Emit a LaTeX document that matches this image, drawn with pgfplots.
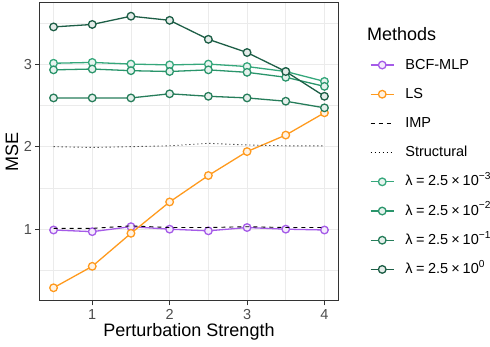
\documentclass[border=0pt]{standalone}
\usepackage{fontspec}
\setmainfont{Liberation Sans}
\usepackage{pgfplots}
\usepackage{pgfplotstable}
\pgfplotsset{compat=1.18}

\definecolor{bcf}{HTML}{A55BE8}
\definecolor{lsq}{HTML}{FF9A1E}
\definecolor{lamA}{HTML}{35A77B}
\definecolor{lamB}{HTML}{2A956B}
\definecolor{lamC}{HTML}{267D5A}
\definecolor{lamD}{HTML}{1D5E46}
\definecolor{gridc}{HTML}{EBEBEB}
\definecolor{tickc}{HTML}{4D4D4D}
\definecolor{framec}{HTML}{333333}

% perturbation strength vs. MSE
\pgfplotstableread{
s    bcf   ls    imp   struct la    lb    lc    ld
0.5  0.99  0.29  1.01  2.00   3.01  2.93  2.59  3.45
1.0  0.97  0.55  1.01  1.99   3.02  2.94  2.59  3.48
1.5  1.03  0.95  1.04  2.00   3.00  2.92  2.59  3.58
2.0  1.00  1.33  1.02  2.01   2.99  2.91  2.64  3.53
2.5  0.98  1.65  1.02  2.04   3.00  2.93  2.61  3.30
3.0  1.02  1.94  1.03  2.02   2.97  2.90  2.59  3.14
3.5  1.00  2.14  1.02  2.01   2.91  2.84  2.55  2.91
4.0  0.99  2.41  1.02  2.01   2.79  2.73  2.47  2.61
}\mse

\pgfplotsset{
  meth/.style={color=#1, line width=1.3pt, mark=*, mark size=3.8pt,
    mark options={solid, draw=#1, fill=#1!12, line width=1.3pt}},
}
\newcommand{\lam}[1]{λ\kern3.5pt=\kern3.5pt2.5\kern3pt×\kern3pt10\raisebox{1pt}{\textsuperscript{#1}}}

\begin{document}
\begin{tikzpicture}
\begin{axis}[
  scale only axis, width=298pt, height=298pt, clip mode=individual,
  xmin=0.325, xmax=4.175, ymin=0.13, ymax=3.74,
  xtick={1,2,3,4}, ytick={1,2,3},
  minor xtick={0.5,1.5,2.5,3.5}, minor ytick={0.5,1.5,2.5,3.5},
  grid=both,
  major grid style={gridc, line width=1pt},
  minor grid style={gridc, line width=0.6pt},
  axis line style={framec, line width=1pt},
  tick pos=left, tick align=outside,
  major tick length=4.5pt, minor tick length=0pt,
  every tick/.style={framec, line width=0.8pt},
  /pgf/number format/assume math mode=true,
  ticklabel style={font=\fontsize{14.5}{16}\selectfont, text=tickc},
  xlabel={Perturbation Strength}, ylabel={MSE},
  label style={font=\fontsize{18}{20}\selectfont},
  xlabel style={at={(axis description cs:0.5,-0.104)}, anchor=center},
  ylabel style={at={(axis description cs:-0.094,0.5)}, anchor=center},
  legend image code/.code={
    \draw[mark repeat=2, mark phase=2, #1] plot coordinates {(0pt,0pt) (11.5pt,0pt) (23pt,0pt)};},
  legend cell align=left,
  legend style={draw=none, fill=none, inner sep=0pt,
    at={(axis description cs:1.107,0.816)}, anchor=north west,
    font=\fontsize{14.5}{16}\selectfont, row sep=15.2pt,
    nodes={inner sep=0pt, text height=11pt, text depth=3pt},
    /tikz/every odd column/.append style={column sep=11pt}},
]
\addplot[meth=bcf] table[x=s, y=bcf] {\mse};
\addlegendentry{BCF-MLP}
\addplot[meth=lsq] table[x=s, y=ls] {\mse};
\addlegendentry{LS}
\addplot[black, line width=0.9pt, dash pattern=on 4pt off 4pt] table[x=s, y=imp] {\mse};
\addlegendentry{IMP}
\addplot[black, line width=0.9pt, dash pattern=on 1pt off 3pt] table[x=s, y=struct] {\mse};
\addlegendentry{Structural}
\addplot[meth=lamA] table[x=s, y=la] {\mse};
\addlegendentry{\lam{−3}}
\addplot[meth=lamB] table[x=s, y=lb] {\mse};
\addlegendentry{\lam{−2}}
\addplot[meth=lamC] table[x=s, y=lc] {\mse};
\addlegendentry{\lam{−1}}
\addplot[meth=lamD] table[x=s, y=ld] {\mse};
\addlegendentry{\lam{0}}
\node[anchor=west, font=\fontsize{18}{20}\selectfont, inner sep=0pt]
  at (rel axis cs:1.097,0.896) {Methods};
\end{axis}
\pgfresetboundingbox
\path (current axis.south west) ++(-40pt,-46pt) coordinate (bbl);
\path (current axis.north east) ++(152pt,3pt) coordinate (bbr);
\path[use as bounding box] (bbl) rectangle (bbr);
\end{tikzpicture}
\end{document}
